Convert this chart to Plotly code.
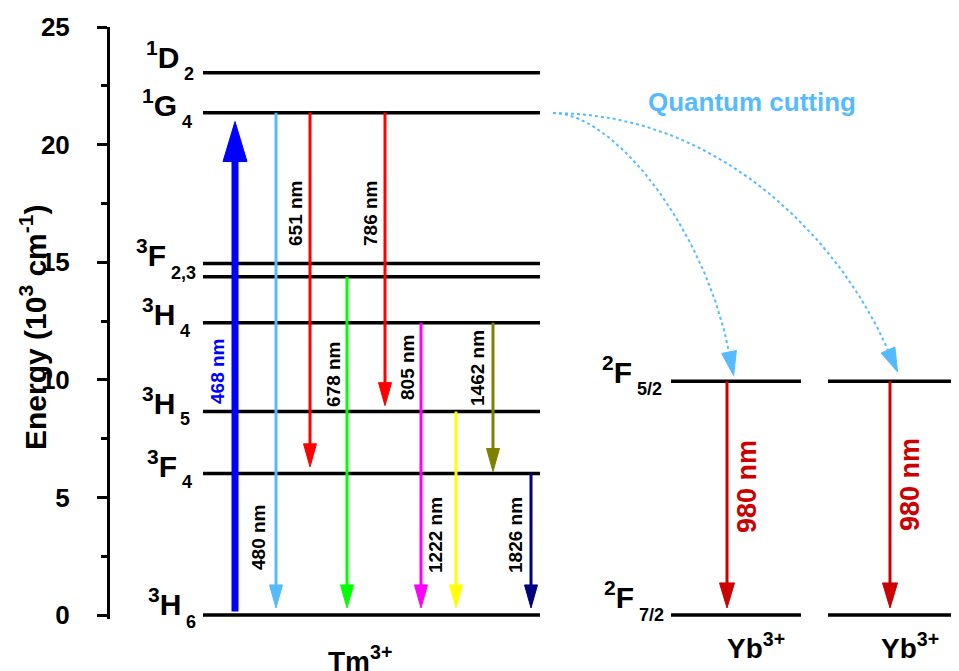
import plotly.graph_objects as go

# ---------------- data ----------------
tm_level_names = ["1D2", "1G4", "3F2", "3F3", "3H4", "3H5", "3F4", "3H6"]
tm_level_energy = [23.05, 21.35, 14.95, 14.38, 12.43, 8.65, 6.02, 0.0]  # 10^3 cm^-1
# label pieces: (superscript, term letter, subscript); "" for the shared 3F2,3 label
tm_level_sup = ["1", "1", "3", "", "3", "3", "3", "3"]
tm_level_term = ["D", "G", "F", "", "H", "H", "F", "H"]
tm_level_sub = ["2", "4", "2,3", "", "4", "5", "4", "6"]

yb_level_names = ["2F5/2", "2F7/2"]
yb_level_energy = [9.94, 0.0]
yb_level_sup = ["2", "2"]
yb_level_term = ["F", "F"]
yb_level_sub = ["5/2", "7/2"]

tm_trans_nm = [468, 480, 651, 678, 786, 805, 1222, 1462, 1826]
tm_trans_from = [0.15, 21.35, 21.35, 14.38, 21.35, 12.43, 8.65, 12.43, 6.02]
tm_trans_to = [20.98, 0.30, 6.30, 0.30, 8.90, 0.30, 0.30, 6.10, 0.30]

yb_trans_nm = [980, 980]
yb_trans_from = [9.94, 9.94]
yb_trans_to = [0.30, 0.30]

y_ticks = [0, 5, 10, 15, 20, 25]

# ---------------- layout / style ----------------
OFF = 8                      # page body margin
PW, PH = 959, 671            # page size
W, H = PW - OFF, PH - OFF
PLOT_L, PLOT_R, PLOT_T, PLOT_B = 110, 959, 27, 619   # plot area in page px
Y0, Y1 = -0.17, 25
PX = (PLOT_B - PLOT_T) / (Y1 - Y0)  # px per energy unit

tm_level_x = (203, 540)
yb_level_x = [(671, 801), (828, 959)]

tm_trans_x = [235, 276, 310, 347, 385, 421, 456, 493, 531]
tm_trans_color = ["#0000FF", "#55BBFF", "#FF0000", "#00FF00", "#FF0000",
                  "#FF00FF", "#FFFF00", "#808000", "#000080"]
tm_trans_w = [7, 3, 3, 3, 3, 3, 3, 3, 3]
tm_head = [(40, 24)] + [(23, 13)] * 8
tm_lab_pos = [(217, 372), (258, 538), (295, 214), (333, 375), (370, 214),
              (407, 368), (435, 535), (477, 368), (515, 535)]
tm_lab_color = ["#0000FF"] + ["#000000"] * 8

yb_trans_x = [727, 890]
yb_lab_pos = [(747, 487), (910, 485)]
DARKRED = "#CC0000"
LBLUE = "#55BBFF"
FONT = "Arial, Liberation Sans, sans-serif"
MAIN_SIZE, SUB_SIZE = 30, 18
DESC = 0.212  # font descent (em)
# level-label geometry: x where subscript starts, baselines below the level line (px)
tm_sub_x = [182, 180, 169, 0, 178, 178, 180, 184]
tm_main_base = [-3, 5, 4, 0, 4, 4, 5, 2]
tm_sub_base = [9, 17, 18, 0, 17, 16, 17, 15]
yb_sub_x = [635, 637]
yb_main_base = [3, -5]
yb_sub_base = [16, 8]


def py2e(ypx):
    return (PLOT_B - ypx) / PX + Y0


def px2paper(x):
    return (x - PLOT_L) / (PLOT_R - PLOT_L)


def py2paper(y):
    return (PLOT_B - y) / (PLOT_B - PLOT_T)


fig = go.Figure()


def add_arrow(x, e0, e1, color, width, head):
    L, Wd = head
    d = 1 if e1 > e0 else -1
    base = e1 - d * L / PX
    fig.add_trace(go.Scatter(x=[x, x], y=[e0, base + d * 2 / PX], mode="lines",
                             line=dict(color=color, width=width), hoverinfo="skip"))
    fig.add_trace(go.Scatter(x=[x, x - Wd / 2, x + Wd / 2, x], y=[e1, base, base, e1],
                             mode="lines", fill="toself", fillcolor=color,
                             line=dict(color=color, width=1), hoverinfo="skip"))


def add_level_label(e, sup, term, sub, subx, mb, sb):
    fig.add_annotation(x=subx - 1, y=e, text=f"<b><sup>{sup}</sup>{term}</b>",
                       showarrow=False, xanchor="right", yanchor="bottom",
                       yshift=-mb - DESC * MAIN_SIZE,
                       font=dict(family=FONT, size=MAIN_SIZE, color="black"))
    fig.add_annotation(x=subx, y=e, text=f"<b>{sub}</b>",
                       showarrow=False, xanchor="left", yanchor="bottom",
                       yshift=-sb - DESC * SUB_SIZE,
                       font=dict(family=FONT, size=SUB_SIZE, color="black"))


# levels
for e in tm_level_energy:
    fig.add_trace(go.Scatter(x=list(tm_level_x), y=[e, e], mode="lines",
                             line=dict(color="black", width=3.5), hoverinfo="skip"))
for (xa, xb) in yb_level_x:
    for e in yb_level_energy:
        fig.add_trace(go.Scatter(x=[xa, xb], y=[e, e], mode="lines",
                                 line=dict(color="black", width=3.5), hoverinfo="skip"))

# transitions
for i, nm in enumerate(tm_trans_nm):
    add_arrow(tm_trans_x[i], tm_trans_from[i], tm_trans_to[i], tm_trans_color[i],
              tm_trans_w[i], tm_head[i])
    lx, ly = tm_lab_pos[i]
    fig.add_annotation(x=lx, y=py2e(ly), text=f"<b>{nm} nm</b>", showarrow=False,
                       textangle=-90, font=dict(family=FONT, size=19, color=tm_lab_color[i]))

for i, nm in enumerate(yb_trans_nm):
    add_arrow(yb_trans_x[i], yb_trans_from[i], yb_trans_to[i], DARKRED, 3, (25, 15))
    lx, ly = yb_lab_pos[i]
    fig.add_annotation(x=lx, y=py2e(ly), text=f"<b>{nm} nm</b>", showarrow=False,
                       textangle=-90, font=dict(family=FONT, size=27, color=DARKRED))

# quantum cutting curves (cubic Bezier, page px converted to axes)
curves = [((553, 113), (615, 113), (705, 230), (729, 352)),
          ((553, 113), (720, 113), (840, 240), (888, 350))]
for P in curves:
    xs, ys = [], []
    n = 60
    for k in range(n + 1):
        t = k / n
        a, b, c, d = (1 - t) ** 3, 3 * (1 - t) ** 2 * t, 3 * (1 - t) * t ** 2, t ** 3
        xs.append(a * P[0][0] + b * P[1][0] + c * P[2][0] + d * P[3][0])
        ys.append(py2e(a * P[0][1] + b * P[1][1] + c * P[2][1] + d * P[3][1]))
    fig.add_trace(go.Scatter(x=xs, y=ys, mode="lines",
                             line=dict(color=LBLUE, width=2, dash="dot"), hoverinfo="skip"))
    dx, dy = P[3][0] - P[2][0], P[3][1] - P[2][1]
    nrm = (dx * dx + dy * dy) ** 0.5
    ux, uy = dx / nrm, dy / nrm
    L, Wd = 24, 15
    tip = (P[3][0] + ux * L, P[3][1] + uy * L)
    b1 = (P[3][0] - uy * Wd / 2, P[3][1] + ux * Wd / 2)
    b2 = (P[3][0] + uy * Wd / 2, P[3][1] - ux * Wd / 2)
    fig.add_trace(go.Scatter(x=[tip[0], b1[0], b2[0], tip[0]],
                             y=[py2e(tip[1]), py2e(b1[1]), py2e(b2[1]), py2e(tip[1])],
                             mode="lines", fill="toself", fillcolor=LBLUE,
                             line=dict(color=LBLUE, width=1), hoverinfo="skip"))

fig.add_annotation(x=752, y=py2e(102), text="<b>Quantum cutting</b>", showarrow=False,
                   font=dict(family=FONT, size=26, color=LBLUE))

# level labels
for i, e in enumerate(tm_level_energy):
    if tm_level_term[i]:
        add_level_label(e, tm_level_sup[i], tm_level_term[i], tm_level_sub[i],
                        tm_sub_x[i], tm_main_base[i], tm_sub_base[i])
for i, e in enumerate(yb_level_energy):
    add_level_label(e, yb_level_sup[i], yb_level_term[i], yb_level_sub[i],
                    yb_sub_x[i], yb_main_base[i], yb_sub_base[i])

# ion labels (baseline placement)
fig.add_annotation(xref="paper", yref="paper", x=px2paper(360),
                   y=py2paper(673 + DESC * 28), xanchor="center", yanchor="bottom",
                   text="<b>Tm<sup>3+</sup></b>", showarrow=False,
                   font=dict(family=FONT, size=28, color="black"))
for xx in [756, 910]:
    fig.add_annotation(xref="paper", yref="paper", x=px2paper(xx),
                       y=py2paper(660 + DESC * 28), xanchor="center", yanchor="bottom",
                       text="<b>Yb<sup>3+</sup></b>", showarrow=False,
                       font=dict(family=FONT, size=28, color="black"))

# axis title
fig.add_annotation(xref="paper", yref="paper", x=px2paper(33), y=py2paper(328),
                   xanchor="center", yanchor="middle",
                   text="<b>Energy (10<sup>3</sup> cm<sup>-1</sup>)</b>",
                   showarrow=False, textangle=-90,
                   font=dict(family=FONT, size=30, color="black"))

fig.update_layout(
    width=W, height=H,
    margin=dict(l=PLOT_L - OFF, r=0, t=PLOT_T - OFF, b=PH - PLOT_B, pad=0),
    plot_bgcolor="white", paper_bgcolor="white", showlegend=False,
    xaxis=dict(range=[PLOT_L, PLOT_R], visible=False, fixedrange=True),
    yaxis=dict(range=[Y0, Y1], tickvals=y_ticks, ticktext=[str(v) for v in y_ticks],
               showgrid=False, zeroline=False, showline=True, linecolor="black",
               linewidth=3, ticks="outside", ticklen=10, tickwidth=3, tickcolor="black",
               tickfont=dict(family=FONT, size=26, color="black", weight="bold"),
               ticklabelstandoff=22,
               minor=dict(tickvals=[2.5, 7.5, 12.5, 17.5, 22.5], ticks="outside",
                          ticklen=6, tickwidth=3, tickcolor="black"),
               fixedrange=True),
)

fig.write_html("out.html")
